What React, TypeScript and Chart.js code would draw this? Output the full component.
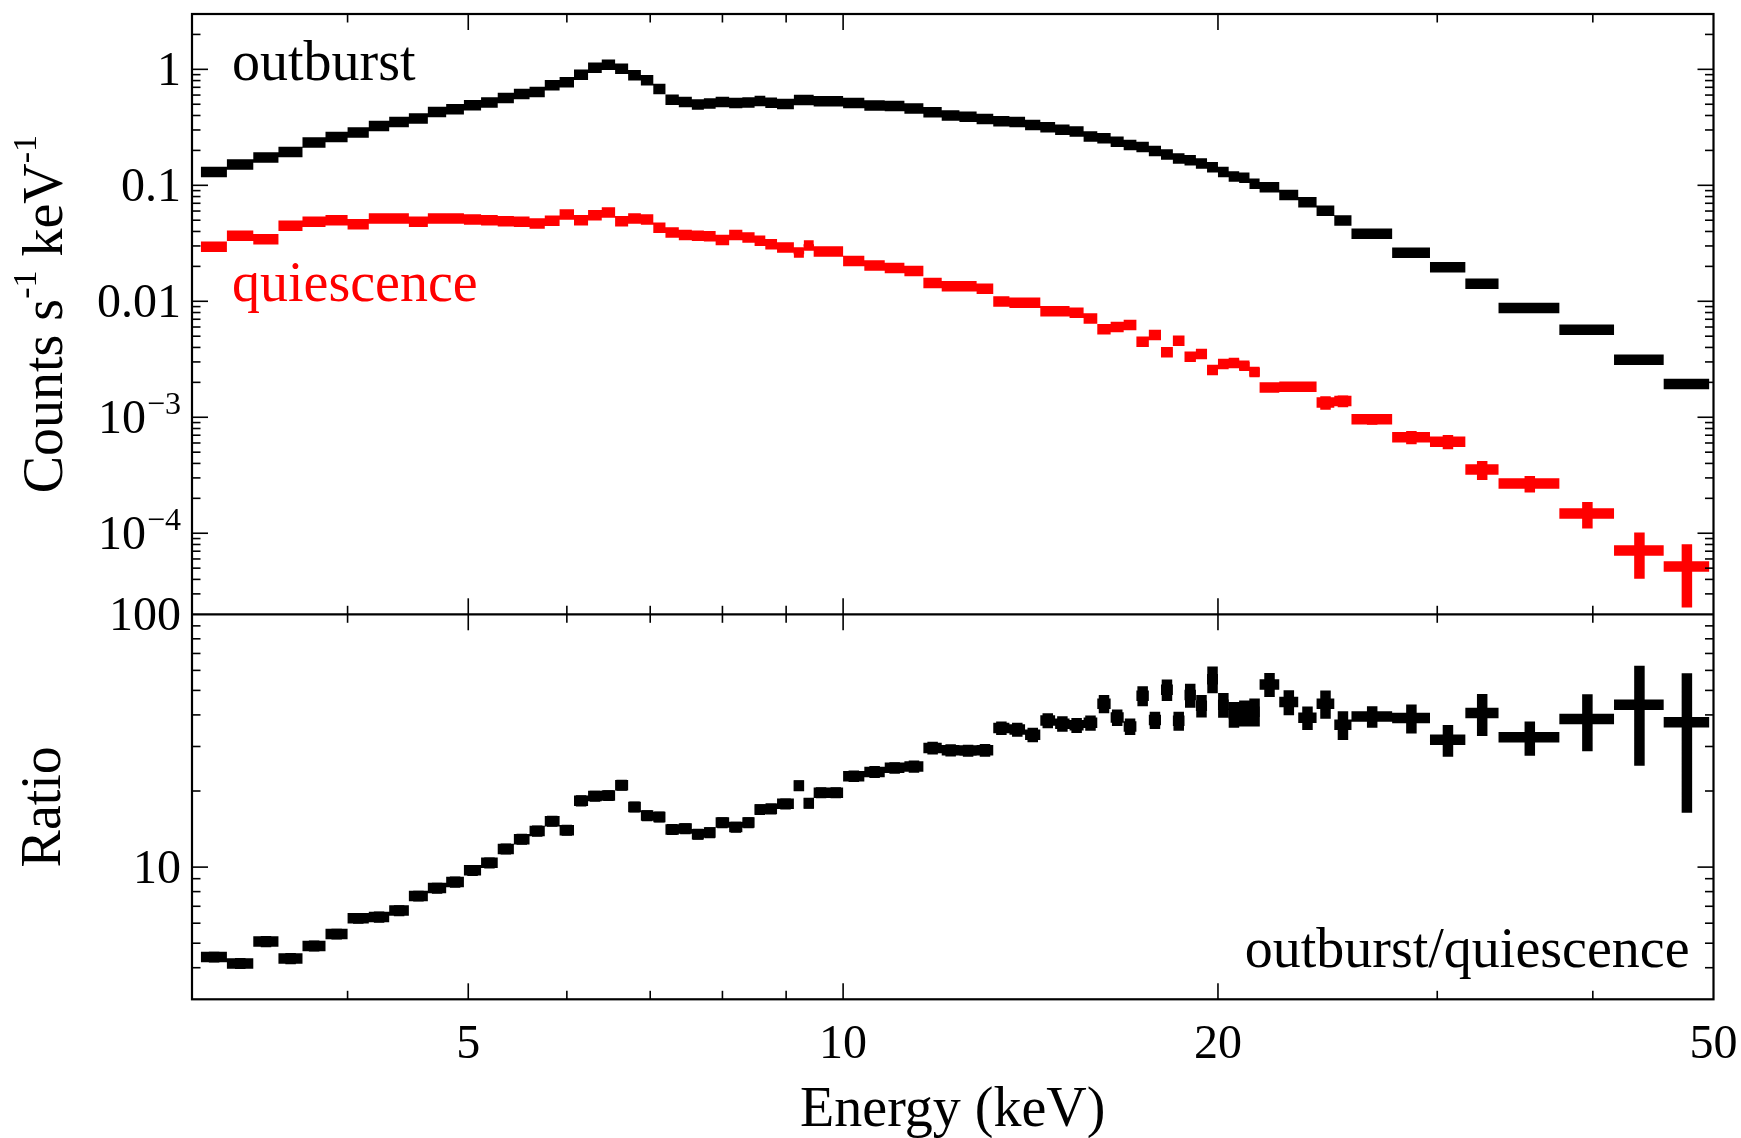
import React, { useEffect, useRef } from 'react';
import { Chart, registerables } from 'chart.js';

Chart.register(...registerables);

const FONT = '"Liberation Serif", "Times New Roman", Times, serif';

// Energy bin edges (keV), shared by all three series
const binEdges = [
  3.05, 3.20, 3.36, 3.52, 3.68, 3.84, 4.00, 4.16, 4.32, 4.48,
  4.64, 4.80, 4.96, 5.12, 5.28, 5.44, 5.60, 5.76, 5.92, 6.08,
  6.24, 6.40, 6.56, 6.72, 6.88, 7.04, 7.20, 7.38, 7.56, 7.73,
  7.90, 8.10, 8.30, 8.49, 8.66, 8.85, 9.13, 9.30, 9.47, 9.73,
  10.0, 10.4, 10.8, 11.2, 11.6, 12.0, 12.4, 12.8, 13.2, 13.6,
  14.0, 14.4, 14.8, 15.2, 15.6, 16.0, 16.4, 16.8, 17.2, 17.6,
  18.0, 18.4, 18.8, 19.2, 19.6, 20.0, 20.4, 20.8, 21.2, 21.6,
  22.4, 23.2, 24.0, 24.8, 25.6, 27.6, 29.6, 31.6, 33.6, 37.6,
  41.6, 45.6, 49.6,
];

// Counts s^-1 keV^-1, outburst
const outburst = [
  0.130, 0.151, 0.174, 0.194, 0.234, 0.261, 0.285, 0.325, 0.352, 0.376,
  0.429, 0.452, 0.490, 0.517, 0.566, 0.613, 0.637, 0.728, 0.773, 0.900,
  1.034, 1.098, 1.014, 0.888, 0.804, 0.677, 0.548, 0.523, 0.497, 0.507,
  0.523, 0.513, 0.517, 0.533, 0.515, 0.503, 0.544, 0.544, 0.530, 0.530,
  0.513, 0.487, 0.483, 0.459, 0.426, 0.400, 0.390, 0.373, 0.357, 0.352,
  0.331, 0.317, 0.302, 0.291, 0.263, 0.254, 0.238, 0.223, 0.214, 0.198,
  0.184, 0.170, 0.1645, 0.154, 0.143, 0.130, 0.119, 0.116, 0.103, 0.0963,
  0.0827, 0.0715, 0.0602, 0.0497, 0.0382, 0.0262, 0.0197, 0.01415, 0.00874, 0.00568,
  0.00313, 0.00194,
];

// Counts s^-1 keV^-1, quiescence
const quiescence = [
  0.0295, 0.0367, 0.0343, 0.0447, 0.0484, 0.0500, 0.0462, 0.0518, 0.0518, 0.0484,
  0.0518, 0.0518, 0.0507, 0.0500, 0.0491, 0.0484, 0.0469, 0.0494, 0.0560, 0.0500,
  0.0553, 0.0583, 0.0491, 0.0518, 0.0507, 0.0430, 0.0392, 0.0372, 0.0367, 0.0364,
  0.0337, 0.0372, 0.0355, 0.0332, 0.0311, 0.0291, 0.0263, 0.0303, 0.0269, 0.0269,
  0.0222, 0.0204, 0.0194, 0.0182, 0.0144, 0.0135, 0.0135, 0.0128, 0.00998, 0.00971,
  0.00971, 0.00819, 0.00819, 0.00796, 0.00712, 0.00573, 0.00600, 0.00624, 0.00448, 0.00511,
  0.00363, 0.00457, 0.00333, 0.00351, 0.00256, 0.00288, 0.00294, 0.00278, 0.00246, 0.00181,
  0.00183, 0.00183, 0.00134, 0.00138, 0.000961, 0.000672, 0.000616, 0.000354, 0.000268, 0.000148,
  0.0000710, 0.0000517,
];

const quiescenceErr = [
  0.0008, 0.0009, 0.0009, 0.0010, 0.0010, 0.0011, 0.0010, 0.0011, 0.0011, 0.0011,
  0.0011, 0.0011, 0.0011, 0.0011, 0.0011, 0.0011, 0.0011, 0.0011, 0.0012, 0.0011,
  0.0012, 0.0012, 0.0011, 0.0011, 0.0011, 0.0010, 0.0009, 0.0009, 0.0009, 0.0009,
  0.0009, 0.0009, 0.0009, 0.0009, 0.0008, 0.0007, 0.0008, 0.0008, 0.0006, 0.0006,
  0.0005, 0.0005, 0.0005, 0.0005, 0.0004, 0.0004, 0.0004, 0.0004, 0.0004, 0.0004,
  0.0004, 0.0003, 0.0003, 0.0003, 0.0003, 0.0003, 0.0003, 0.0003, 0.00025, 0.00028,
  0.00024, 0.00027, 0.00023, 0.00024, 0.00021, 0.00022, 0.00023, 0.00022, 0.00021, 0.00014,
  0.00015, 0.00015, 0.00018, 0.00016, 0.00010, 0.000088, 0.000087, 0.000066, 0.000043, 0.000038,
  0.0000305, 0.0000288,
];

// outburst / quiescence ratio
const ratio = [
  4.41, 4.16, 5.08, 4.35, 4.88, 5.44, 6.28, 6.35, 6.73, 7.69,
  8.26, 8.73, 9.71, 10.4, 11.8, 12.9, 13.9, 15.2, 14.0, 18.3,
  19.1, 19.2, 21.1, 17.3, 16.0, 15.8, 14.1, 14.2, 13.5, 13.7,
  15.0, 14.4, 15.0, 16.9, 17.0, 17.8, 21.0, 17.9, 19.7, 19.7,
  22.9, 23.8, 24.7, 25.0, 29.6, 29.0, 28.9, 29.0, 35.5, 35.0,
  33.4, 38.0, 36.9, 36.4, 37.2, 44.3, 39.1, 36.0, 47.6, 38.2,
  50.3, 37.9, 47.9, 43.5, 55.4, 43.9, 40.3, 40.8, 41.2, 52.8,
  45.0, 39.0, 44.3, 36.6, 39.4, 38.9, 31.9, 40.7, 32.6, 38.5,
  43.9, 37.4,
];

const ratioErr = [
  0.22, 0.21, 0.26, 0.22, 0.24, 0.27, 0.31, 0.32, 0.34, 0.38,
  0.41, 0.44, 0.48, 0.52, 0.59, 0.64, 0.70, 0.76, 0.70, 0.92,
  0.95, 0.96, 1.05, 0.87, 0.80, 0.79, 0.70, 0.71, 0.67, 0.68,
  0.75, 0.72, 0.75, 0.84, 0.85, 0.89, 1.05, 0.89, 0.98, 0.98,
  1.2, 1.3, 1.3, 1.4, 1.7, 1.6, 1.6, 1.7, 2.2, 2.2,
  2.2, 2.6, 2.6, 2.5, 2.6, 3.7, 2.95, 2.7, 4.3, 3.0,
  4.9, 3.3, 5.2, 4.4, 6.7, 4.9, 4.7, 4.8, 5.2, 5.75,
  5.1, 4.15, 5.7, 4.8, 3.85, 5.1, 4.6, 7.7, 5.05, 9.8,
  18.7, 21.0,
];

// axis ticks and labels
const xMajorTicks = [5, 10, 20];
const xMinorTicks = [4, 6, 7, 8, 9, 30, 40];
const xLabelValues = [5, 10, 20, 50];
const xLabels = ['5', '10', '20', '50'];
const countsLabelValues = [1, 0.1, 0.01, 1e-3, 1e-4];
const countsLabels = ['1', '0.1', '0.01', '10^\u22123', '10^\u22124'];
const ratioLabelValues = [100, 10];
const ratioLabels = ['100', '10'];

function hSegments(vals: number[]) {
  const pts: any[] = [];
  vals.forEach((v, i) => {
    pts.push({ x: binEdges[i], y: v }, { x: binEdges[i + 1], y: v }, { x: binEdges[i + 1], y: null });
  });
  return pts;
}

function vSegments(vals: number[], errs: number[]) {
  const pts: any[] = [];
  vals.forEach((v, i) => {
    const e = errs[i];
    const c = (binEdges[i] + binEdges[i + 1]) / 2;
    pts.push({ x: c, y: v - e }, { x: c, y: v + e }, { x: c, y: null });
  });
  return pts;
}

const seg = (data: any[], color: string, axis: string) => ({
  type: 'line',
  data,
  yAxisID: axis,
  xAxisID: 'x',
  borderColor: color,
  backgroundColor: color,
  borderWidth: 10.5,
  borderCapStyle: 'butt',
  pointRadius: 0,
  pointHoverRadius: 0,
  showLine: true,
  spanGaps: false,
  fill: false,
  tension: 0,
  clip: false,
});

const framePlugin = {
  id: 'framePlugin',
  afterDraw(chart: any) {
    const ctx = chart.ctx;
    const xs = chart.scales.x;
    const yc = chart.scales.yCounts;
    const yr = chart.scales.yRatio;
    const L = xs.left;
    const R = xs.right;
    const T = yc.top;
    const M = yc.bottom;
    const B = yr.bottom;
    const line = (x1: number, y1: number, x2: number, y2: number) => {
      ctx.beginPath();
      ctx.moveTo(x1, y1);
      ctx.lineTo(x2, y2);
      ctx.stroke();
    };
    ctx.save();
    ctx.strokeStyle = '#000';
    ctx.fillStyle = '#000';
    ctx.lineCap = 'butt';
    const MAJ = 16;
    const MIN = 8.5;

    // x ticks on every horizontal edge
    ctx.lineWidth = 1.6;
    const xt: [number, number][] = [
      ...xMajorTicks.map((v) => [v, MAJ] as [number, number]),
      ...xMinorTicks.map((v) => [v, MIN] as [number, number]),
    ];
    for (const [v, len] of xt) {
      const px = xs.getPixelForValue(v);
      line(px, T, px, T + len);
      line(px, M - len, px, M + len);
      line(px, B - len, px, B);
    }
    // y ticks on both sides
    const yTicks = (scale: any) => {
      const lo = Math.floor(Math.log10(scale.min));
      const hi = Math.ceil(Math.log10(scale.max));
      for (let d = lo; d <= hi; d++) {
        for (let m = 1; m <= 9; m++) {
          const v = m * Math.pow(10, d);
          if (v <= scale.min * 1.0001 || v >= scale.max * 0.9999) continue;
          const len = m === 1 ? MAJ : MIN;
          const py = scale.getPixelForValue(v);
          line(L, py, L + len, py);
          line(R - len, py, R, py);
        }
      }
    };
    yTicks(yc);
    yTicks(yr);

    // frame and divider
    ctx.lineWidth = 2.2;
    ctx.strokeRect(L, T, R - L, B - T);
    line(L, M, R, M);

    // x tick labels
    ctx.textBaseline = 'alphabetic';
    ctx.textAlign = 'center';
    ctx.font = `48px ${FONT}`;
    xLabelValues.forEach((v, i) => {
      ctx.fillText(xLabels[i], xs.getPixelForValue(v), B + 59);
    });

    // y tick labels
    const xr = L - 11;
    const yLabel = (text: string, py: number) => {
      ctx.textAlign = 'right';
      if (text.includes('^')) {
        const [base, exp] = text.split('^');
        ctx.font = `32px ${FONT}`;
        const ew = ctx.measureText(exp).width;
        ctx.fillText(exp, xr, py + 16 - 19);
        ctx.font = `48px ${FONT}`;
        ctx.fillText(base, xr - ew - 1, py + 16);
      } else {
        ctx.font = `48px ${FONT}`;
        ctx.fillText(text, xr, py + 16);
      }
    };
    countsLabelValues.forEach((v, i) => yLabel(countsLabels[i], yc.getPixelForValue(v)));
    ratioLabelValues.forEach((v, i) => yLabel(ratioLabels[i], yr.getPixelForValue(v)));

    // rotated axis titles
    const rotated = (pieces: any[], cx: number, cy: number) => {
      ctx.save();
      ctx.translate(cx, cy);
      ctx.rotate(-Math.PI / 2);
      ctx.textAlign = 'left';
      let total = 0;
      pieces.forEach((p) => {
        ctx.font = `${p.size}px ${FONT}`;
        p.w = ctx.measureText(p.t).width;
        total += p.w;
      });
      let x = -total / 2;
      pieces.forEach((p) => {
        ctx.font = `${p.size}px ${FONT}`;
        ctx.fillText(p.t, x, -p.rise);
        x += p.w;
      });
      ctx.restore();
    };
    rotated(
      [
        { t: 'Counts s', size: 56, rise: 0 },
        { t: '-1', size: 34, rise: 26 },
        { t: ' keV', size: 56, rise: 0 },
        { t: '-1', size: 34, rise: 26 },
      ],
      62,
      (T + M) / 2,
    );
    rotated([{ t: 'Ratio', size: 56, rise: 0 }], 60, (M + B) / 2);

    // x title
    ctx.textAlign = 'center';
    ctx.font = `56px ${FONT}`;
    ctx.fillText('Energy (keV)', (L + R) / 2, B + 127);

    // annotations
    ctx.textAlign = 'left';
    ctx.fillStyle = '#000';
    ctx.fillText('outburst', L + 40, T + 66);
    ctx.fillStyle = '#ff0000';
    ctx.fillText('quiescence', L + 40, T + 287);
    ctx.fillStyle = '#000';
    ctx.textAlign = 'right';
    ctx.fillText('outburst/quiescence', R - 24, B - 32);
    ctx.restore();
  },
};

export default function App() {
  const ref = useRef<HTMLCanvasElement | null>(null);
  useEffect(() => {
    if (!ref.current) return;
    const chart = new Chart(ref.current, {
      type: 'line',
      data: {
        datasets: [
          seg(hSegments(outburst), '#000000', 'yCounts'),
          seg(hSegments(quiescence), '#ff0000', 'yCounts'),
          seg(vSegments(quiescence, quiescenceErr), '#ff0000', 'yCounts'),
          seg(hSegments(ratio), '#000000', 'yRatio'),
          seg(vSegments(ratio, ratioErr), '#000000', 'yRatio'),
        ] as any,
      },
      options: {
        animation: false,
        responsive: false,
        maintainAspectRatio: false,
        devicePixelRatio: 1,
        events: [],
        layout: { padding: { left: 192, right: 27.5, top: 14, bottom: 138.7 } },
        plugins: {
          legend: { display: false },
          tooltip: { enabled: false },
          title: { display: false },
        },
        scales: {
          x: { type: 'logarithmic', min: 3, max: 50, display: false },
          yRatio: {
            type: 'logarithmic', min: 3, max: 100, display: false,
            position: 'left', stack: 'panels', stackWeight: 385, weight: 1,
          },
          yCounts: {
            type: 'logarithmic', min: 2e-5, max: 3, display: false,
            position: 'left', stack: 'panels', stackWeight: 600.3, weight: 2,
          },
        },
      } as any,
      plugins: [framePlugin],
    });
    return () => chart.destroy();
  }, []);
  return (
    <div style={{ position: 'absolute', left: 0, top: 0, width: 1741, height: 1138, background: '#fff' }}>
      <canvas ref={ref} width={1741} height={1138} style={{ display: 'block' }} />
    </div>
  );
}
